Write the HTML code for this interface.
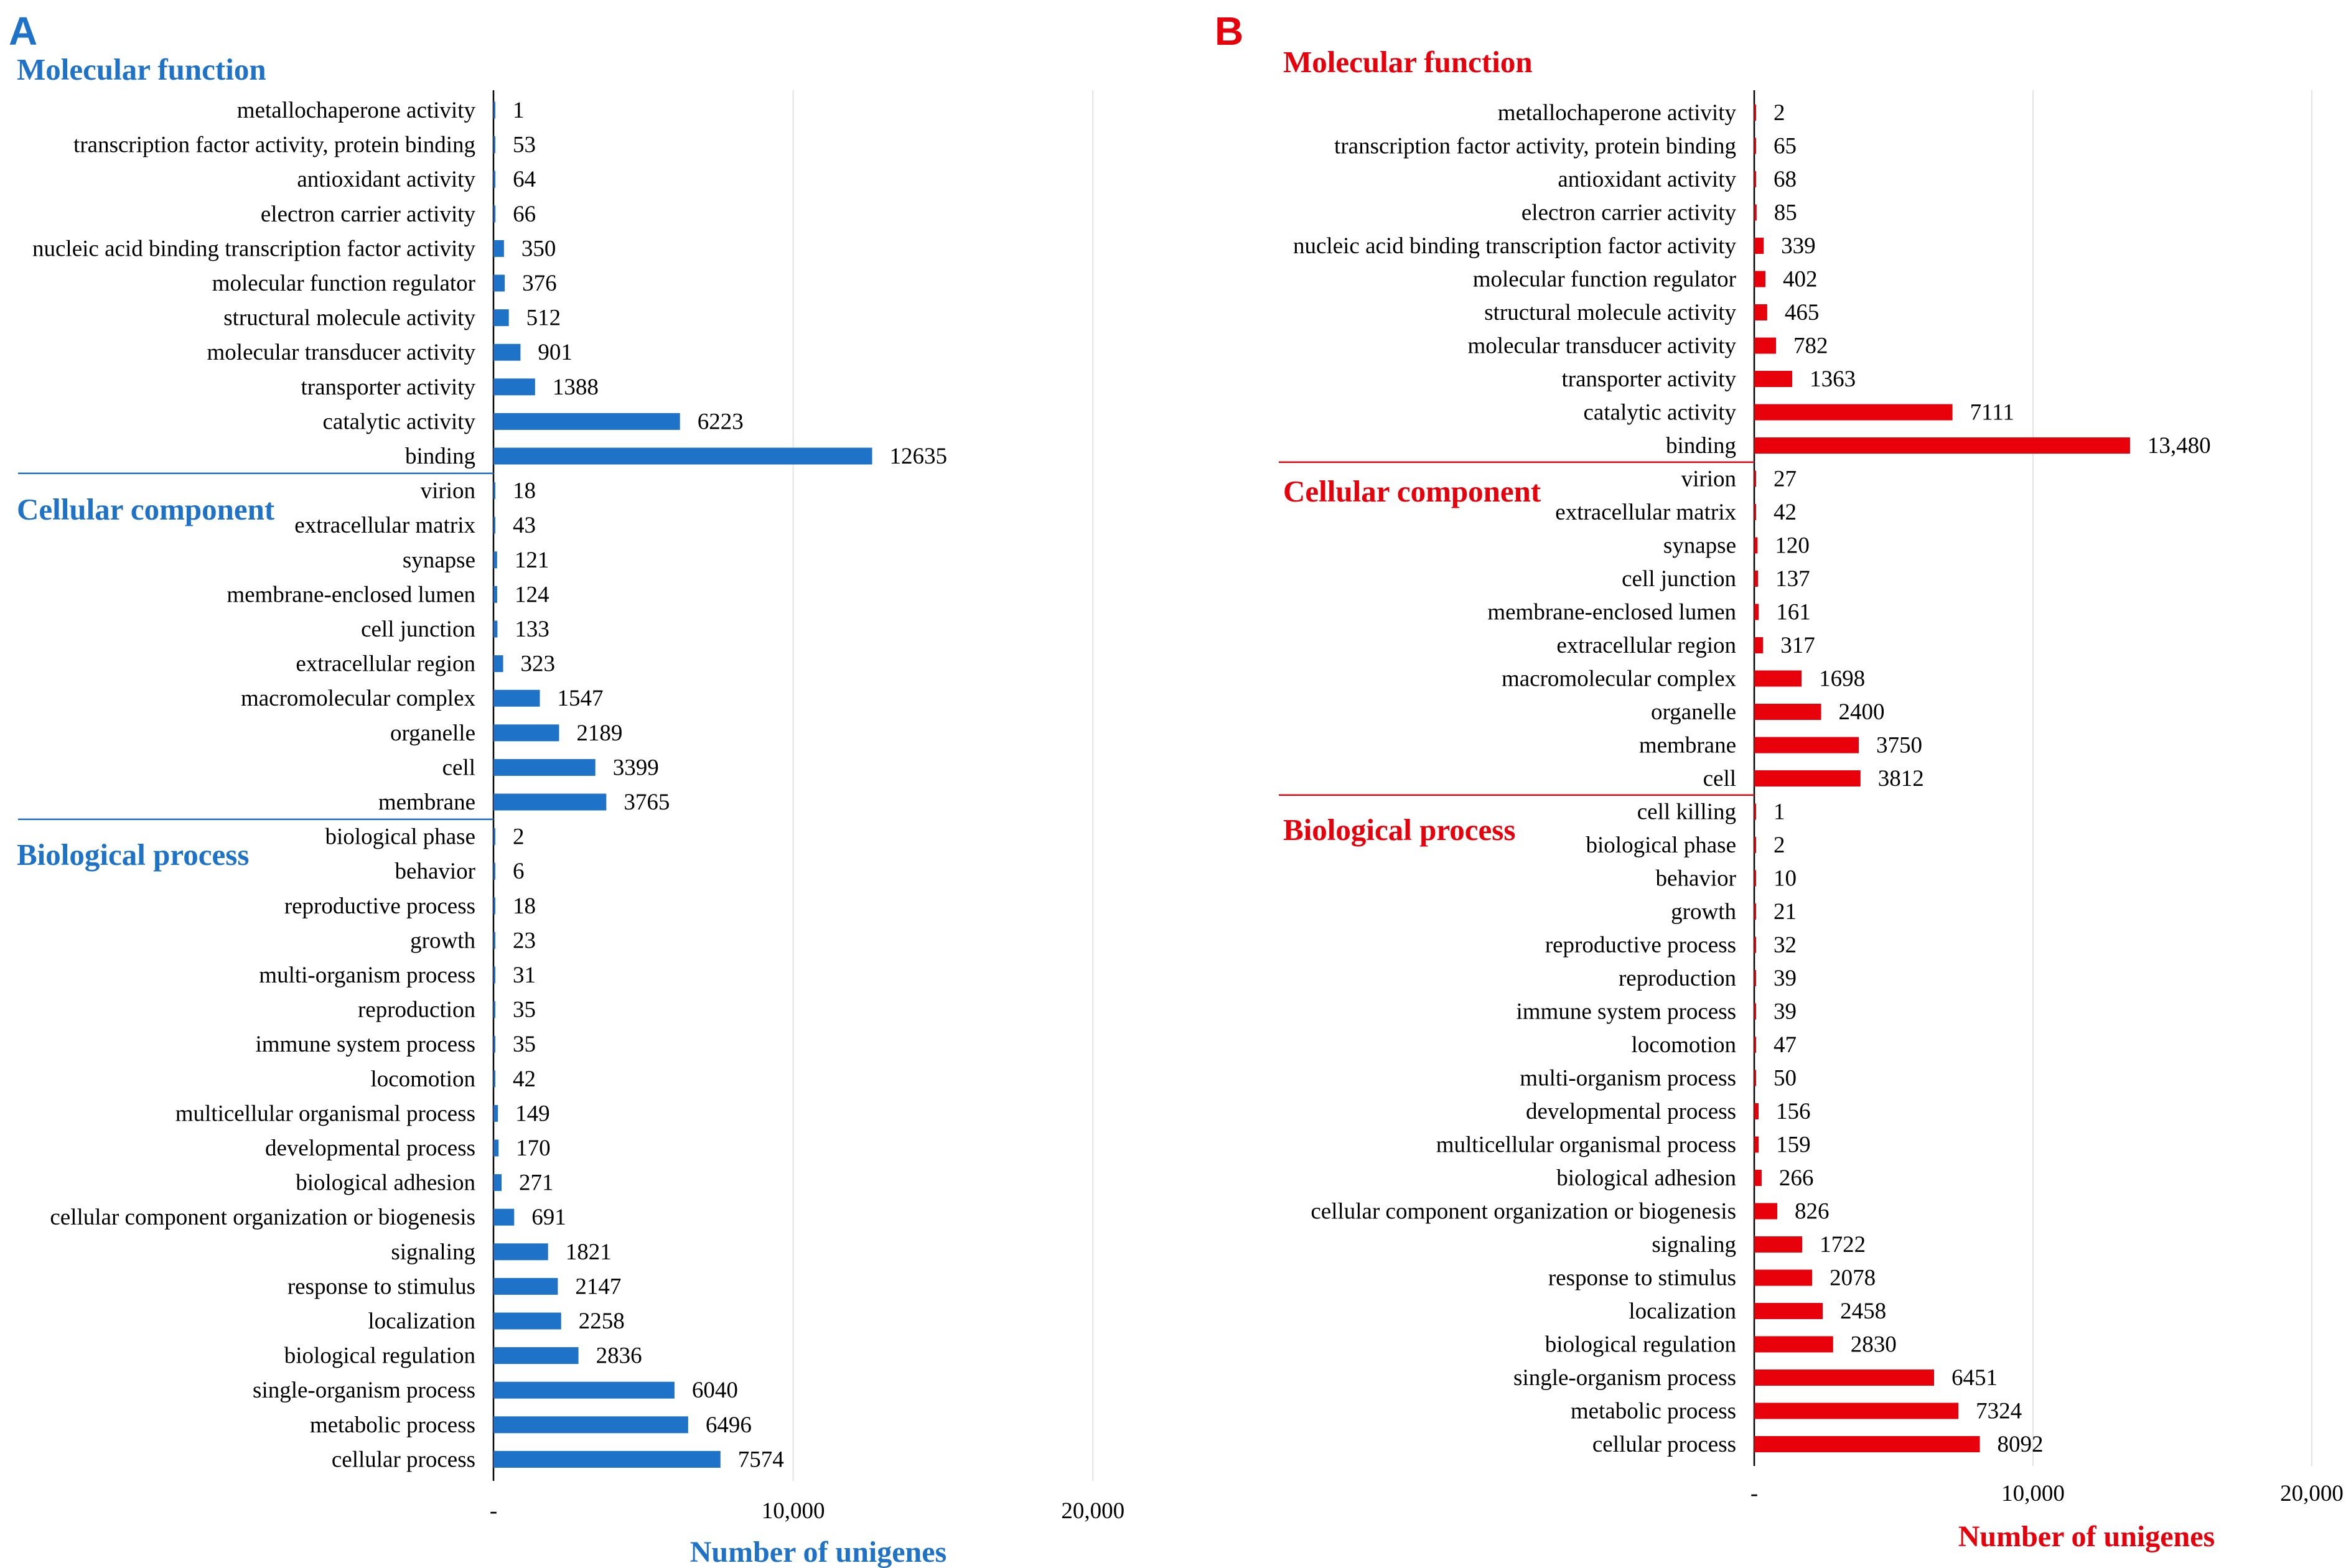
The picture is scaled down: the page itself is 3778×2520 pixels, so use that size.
<!DOCTYPE html>
<html><head><meta charset="utf-8"><style>
html,body{margin:0;padding:0;background:#fff;}
svg{display:block;}
</style></head><body>
<svg id="chart" width="3778" height="2520" xmlns="http://www.w3.org/2000/svg"></svg>
<script>
// Panel A data
const aMFcats=["metallochaperone activity","transcription factor activity, protein binding","antioxidant activity","electron carrier activity","nucleic acid binding transcription factor activity","molecular function regulator","structural molecule activity","molecular transducer activity","transporter activity","catalytic activity","binding"];
const aMFvals=[1,53,64,66,350,376,512,901,1388,6223,12635];
const aCCcats=["virion","extracellular matrix","synapse","membrane-enclosed lumen","cell junction","extracellular region","macromolecular complex","organelle","cell","membrane"];
const aCCvals=[18,43,121,124,133,323,1547,2189,3399,3765];
const aBPcats=["biological phase","behavior","reproductive process","growth","multi-organism process","reproduction","immune system process","locomotion","multicellular organismal process","developmental process","biological adhesion","cellular component organization or biogenesis","signaling","response to stimulus","localization","biological regulation","single-organism process","metabolic process","cellular process"];
const aBPvals=[2,6,18,23,31,35,35,42,149,170,271,691,1821,2147,2258,2836,6040,6496,7574];
// Panel B data
const bMFcats=["metallochaperone activity","transcription factor activity, protein binding","antioxidant activity","electron carrier activity","nucleic acid binding transcription factor activity","molecular function regulator","structural molecule activity","molecular transducer activity","transporter activity","catalytic activity","binding"];
const bMFvals=[2,65,68,85,339,402,465,782,1363,7111,13480];
const bMFlabels=["2","65","68","85","339","402","465","782","1363","7111","13,480"];
const bCCcats=["virion","extracellular matrix","synapse","cell junction","membrane-enclosed lumen","extracellular region","macromolecular complex","organelle","membrane","cell"];
const bCCvals=[27,42,120,137,161,317,1698,2400,3750,3812];
const bBPcats=["cell killing","biological phase","behavior","growth","reproductive process","reproduction","immune system process","locomotion","multi-organism process","developmental process","multicellular organismal process","biological adhesion","cellular component organization or biogenesis","signaling","response to stimulus","localization","biological regulation","single-organism process","metabolic process","cellular process"];
const bBPvals=[1,2,10,21,32,39,39,47,50,156,159,266,826,1722,2078,2458,2830,6451,7324,8092];
const xTicks=[0,10000,20000];
const xTickLabels=["-","10,000","20,000"];
const bTickLabels=["-","10,000","20,000"];

const svg=document.getElementById('chart');
const NS="http://www.w3.org/2000/svg";
function mk(tag,attrs,text){const e=document.createElementNS(NS,tag);for(const k in attrs)e.setAttribute(k,attrs[k]);if(text!==undefined)e.textContent=text;svg.appendChild(e);return e;}

function panel(cfg){
  const x=v=>cfg.x0+v*cfg.scale;
  const y=i=>cfg.y0+i*cfg.step;
  const groups=cfg.groups;
  xTicks.forEach((t,i)=>{
    if(i>0){const g=mk('line',{x1:x(t),x2:x(t),y1:cfg.gridTop,y2:cfg.axisBottom,stroke:'#e3e3e3','stroke-width':2});
      }
    const tl=mk('text',{x:x(t),y:cfg.tickY,'text-anchor':'middle','font-family':'Liberation Serif, serif','font-size':37,fill:'#000'},cfg.tickLabels[i]);
    
  });
  const ax=mk('line',{x1:cfg.x0,x2:cfg.x0,y1:cfg.gridTop,y2:cfg.axisBottom,stroke:'#000','stroke-width':2.5});
  
  let idx=0;
  groups.forEach((g,gi)=>{
    if(gi>0){const s=mk('line',{x1:cfg.sepX,x2:cfg.x0,y1:y(idx)-cfg.step/2,y2:y(idx)-cfg.step/2,stroke:cfg.color,'stroke-width':2.5});
      }
    const t=mk('text',{x:cfg.titleX,y:g.titleY,'font-family':'Liberation Serif, serif','font-weight':'bold','font-size':49,fill:cfg.color},g.title);
    
    g.cats.forEach((c,i)=>{
      const yy=y(idx);const v=g.vals[i];
      const lb=mk('text',{x:cfg.labelX,y:yy+12,'text-anchor':'end','font-family':'Liberation Serif, serif','font-size':37,fill:'#000'},c);
      
      const w=Math.max(x(v)-cfg.x0,3);
      const r=mk('rect',{x:cfg.x0,y:yy-cfg.barH/2,width:w,height:cfg.barH,fill:cfg.color});
      
      const vl=mk('text',{x:cfg.x0+w+28,y:yy+12,'font-family':'Liberation Serif, serif','font-size':37,fill:'#000'},g.labels?g.labels[i]:String(v));
      
      idx++;
    });
  });
  const at=mk('text',{x:cfg.axTitleX,y:cfg.axTitleY,'text-anchor':'middle','font-family':'Liberation Serif, serif','font-weight':'bold','font-size':48,fill:cfg.color},'Number of unigenes');
  
  const pl=mk('text',{x:cfg.letterX,y:cfg.letterY,'font-family':'Liberation Sans, sans-serif','font-weight':'bold','font-size':64,fill:cfg.color},cfg.letter);
  
}

panel({x0:793,scale:481.6/10000,y0:177,step:55.6,barH:27,color:'#1e73c8',gridTop:145,axisBottom:2380,tickY:2440,tickLabels:xTickLabels,
  labelX:764,sepX:29,titleX:27,axTitleX:1315,axTitleY:2510,letter:'A',letterX:14,letterY:72,
  groups:[{title:'Molecular function',titleY:128,cats:aMFcats,vals:aMFvals},
          {title:'Cellular component',titleY:835,cats:aCCcats,vals:aCCvals},
          {title:'Biological process',titleY:1390,cats:aBPcats,vals:aBPvals}]});
panel({x0:2819,scale:448/10000,y0:181,step:53.5,barH:26,color:'#e8000b',gridTop:145,axisBottom:2356,tickY:2412,tickLabels:bTickLabels,
  labelX:2790,sepX:2055,titleX:2062,axTitleX:3353,axTitleY:2485,letter:'B',letterX:1952,letterY:72,
  groups:[{title:'Molecular function',titleY:116,cats:bMFcats,vals:bMFvals,labels:bMFlabels},
          {title:'Cellular component',titleY:806,cats:bCCcats,vals:bCCvals},
          {title:'Biological process',titleY:1350,cats:bBPcats,vals:bBPvals}]});
</script>
</body></html>
